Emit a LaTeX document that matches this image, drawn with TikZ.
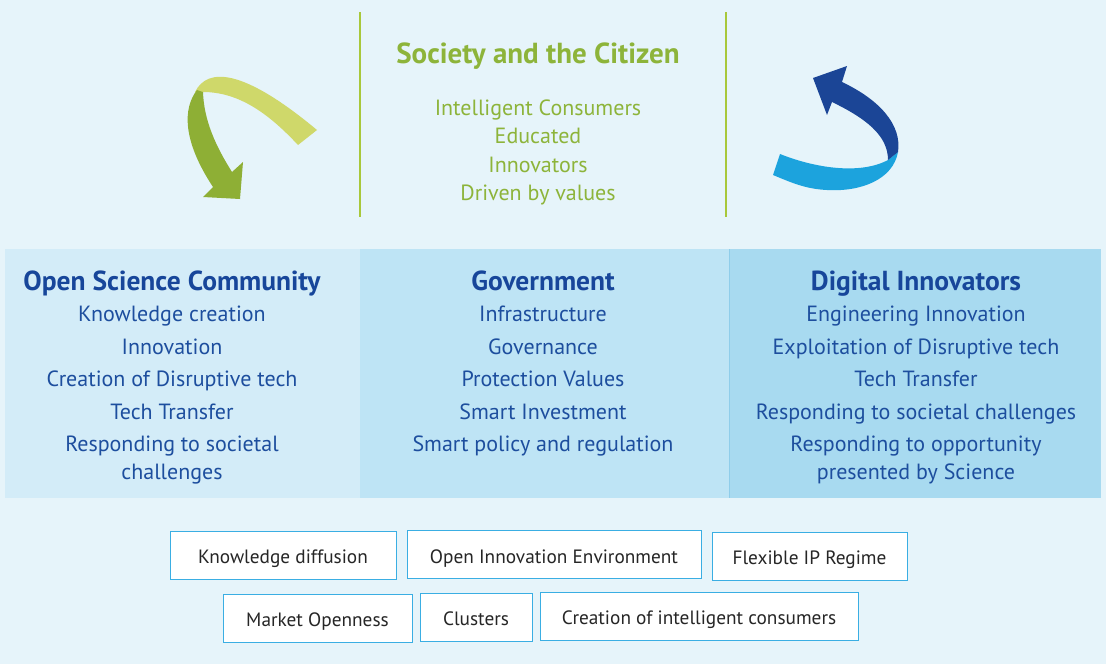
\documentclass[tikz,border=0pt]{standalone}
\usepackage{fontspec}
\setmainfont{PT Sans}
\usepackage{tikz}
\definecolor{bgblue}{HTML}{E6F4FA}
\definecolor{colA}{HTML}{D3ECF8}
\definecolor{colB}{HTML}{BEE4F5}
\definecolor{colC}{HTML}{A8DAF0}
\definecolor{colline}{HTML}{8FCDEA}
\definecolor{socgreen}{HTML}{8DB43A}
\definecolor{linegreen}{HTML}{A8C83A}
\definecolor{itemblue}{HTML}{1D4E9E}
\definecolor{titleblue}{HTML}{17469A}
\definecolor{boxline}{HTML}{3AAEE3}
\definecolor{lgreen}{HTML}{CFD86A}
\definecolor{dgreen}{HTML}{8EAF35}
\definecolor{lblue}{HTML}{1CA3DD}
\definecolor{dblue}{HTML}{1B4596}
\tikzset{>=latex,%
  soctitle/.style={font=\bfseries\fontsize{29}{34}\selectfont,text=socgreen,anchor=base},%
  socitem/.style={font=\fontsize{22}{28}\selectfont,text=socgreen,anchor=base},%
  coltitle/.style={font=\bfseries\fontsize{27.5}{32}\selectfont,text=titleblue,anchor=base},%
  colitem/.style={font=\fontsize{22}{28}\selectfont,text=itemblue,anchor=base},%
  ibox/.style={draw=boxline,fill=white,line width=0.8pt,minimum height=48pt,
    font=\fontsize{19.3}{23}\selectfont,text=black!85,inner sep=0pt,
    text height=20pt,text depth=3pt}}
\begin{document}
\begin{tikzpicture}[x=1pt,y=-1pt]
      \fill[bgblue] (0,0) rectangle (1106,664);
      \fill[colA] (5,249) rectangle (360,498);
      \fill[colB] (360,249) rectangle (729,498);
      \fill[colC] (729,249) rectangle (1101,498);
      \draw[colline,line width=0.8pt] (729,249) -- (729,498);
      \draw[linegreen,line width=2.5pt] (360,12) -- (360,217);
      \draw[linegreen,line width=2.5pt] (726,12) -- (726,217);
      \node[soctitle] (soc) at (538,63) {Society and the Citizen};
      \foreach \y/\t [count=\i] in {115/Intelligent Consumers,143.5/Educated,
        172/Innovators,200/Driven by values}
        {\node[socitem] (soc\i) at (538,\y) {\t};};
      \fill[lgreen] (195,92) .. controls (208,66) and (245,70) .. (317,130)
        -- (298,145) .. controls (270,115) and (240,92) .. (203,92) -- cycle;
      \fill[dgreen] (197,90) .. controls (183,108) and (182,140) .. (213,187)
        -- (203,197) -- (240,199) -- (243,162) -- (232,172)
        .. controls (215,145) and (204,120) .. (203,92) -- cycle;
      \fill[lblue] (780,154) .. controls (815,168) and (860,175) .. (888,160)
        -- (898,152) .. controls (893,180) and (860,192) .. (827,190)
        .. controls (805,189) and (790,182) .. (773,175) -- cycle;
      \fill[dblue] (898,152) .. controls (902,125) and (880,100) .. (842,82)
        -- (847,66) -- (813,78) -- (827,115) -- (832,102)
        .. controls (865,118) and (888,135) .. (888,160) -- cycle;
      \node[coltitle] (osc) at (172,290) {Open Science Community};
      \foreach \y/\t [count=\i] in {321.5/Knowledge creation,354/Innovation,
        386.5/Creation of Disruptive tech,419/Tech Transfer,
        451/Responding to societal,479/challenges}
        {\node[colitem] (osc\i) at (172,\y) {\t};};
      \node[coltitle] (gov) at (543,290) {Government};
      \foreach \y/\t [count=\i] in {321.5/Infrastructure,354/Governance,
        386.5/Protection Values,419/Smart Investment,451/Smart policy and regulation}
        {\node[colitem] (gov\i) at (543,\y) {\t};};
      \node[coltitle] (dig) at (916,290) {Digital Innovators};
      \foreach \y/\t [count=\i] in {321.5/Engineering Innovation,
        354/Exploitation of Disruptive tech,386.5/Tech Transfer,
        419/Responding to societal challenges,
        451/Responding to opportunity,479/presented by Science}
        {\node[colitem] (dig\i) at (916,\y) {\t};};
      \node[ibox,minimum width=226pt] (kd) at (283,555) {Knowledge diffusion};
      \node[ibox,minimum width=294pt] (oie) at (554,554.5) {Open Innovation Environment};
      \node[ibox,minimum width=195pt] (fip) at (809.5,556) {Flexible IP Regime};
      \node[ibox,minimum width=189pt] (mo) at (317.5,618) {Market Openness};
      \node[ibox,minimum width=112pt] (cl) at (476,617) {Clusters};
      \node[ibox,minimum width=318pt] (cic) at (699,616) {Creation of intelligent consumers};
    \end{tikzpicture}
\end{document}
